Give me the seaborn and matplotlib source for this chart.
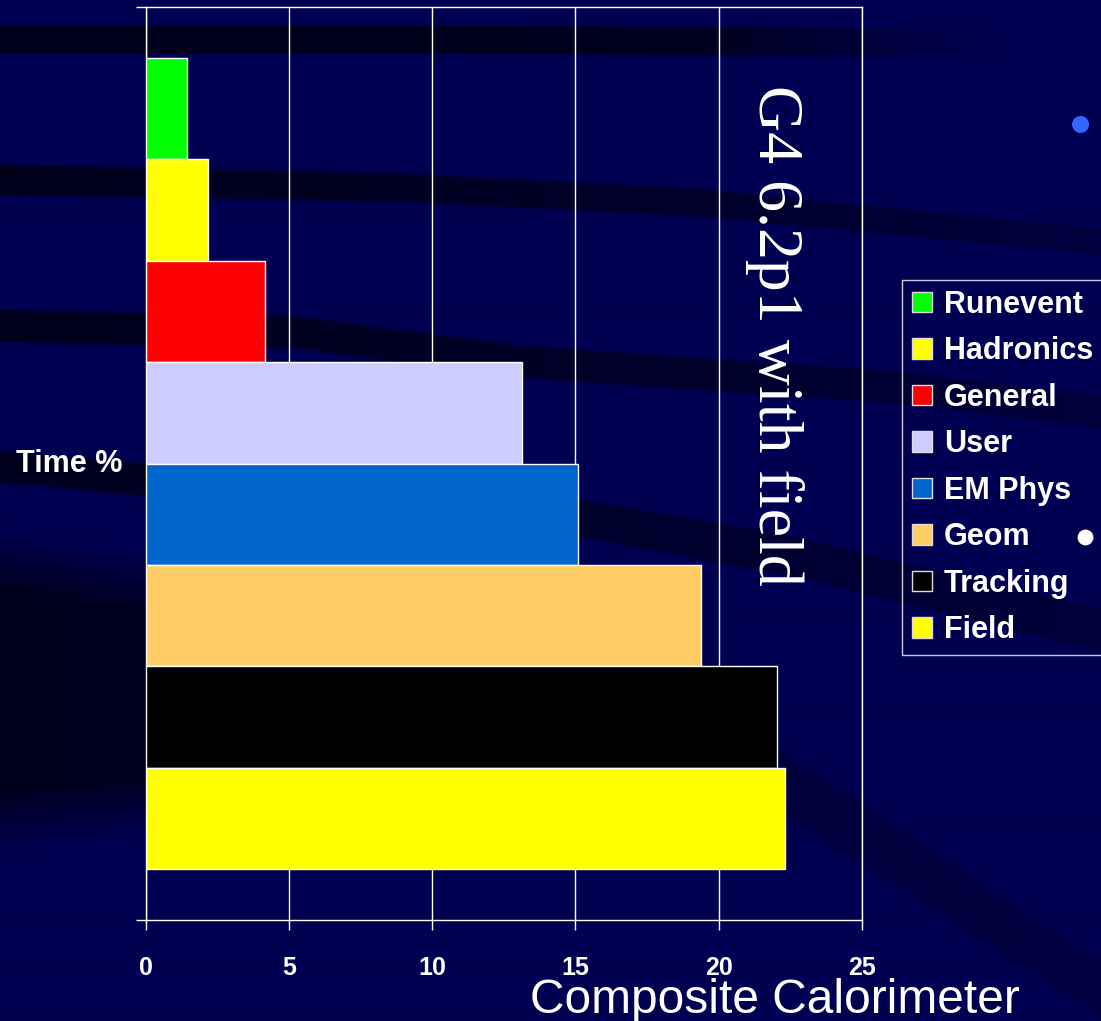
import numpy as np
import pandas as pd
import matplotlib
matplotlib.use("Agg")
import matplotlib.pyplot as plt
from matplotlib.patches import Patch
from matplotlib import font_manager
import seaborn as sns

# ---- data ----
series = ["Runevent", "Hadronics", "General", "User", "EM Phys", "Geom", "Tracking", "Field"]
time_pct = [1.43, 2.17, 4.16, 13.14, 15.08, 19.38, 22.03, 22.33]
colors = ["#00FF00", "#FFFF00", "#FF0000", "#CCCCFF", "#0066CC", "#FFCC66", "#000000", "#FFFF00"]
xticks = [0, 5, 10, 15, 20, 25]
category_label = "Time %"
title = "G4 6.2p1 with field"
subtitle = "Composite Calorimeter"

plt.rcParams['font.family'] = ['Liberation Sans', 'DejaVu Sans']
installed = {f.name for f in font_manager.fontManager.ttflist}
narrow_ok = "Liberation Sans Narrow" in installed

W, H = 1101, 1021
fig = plt.figure(figsize=(W / 100, H / 100), dpi=100)
fig.patch.set_facecolor("#000052")

# ---- background (slide decoration) ----
bg = fig.add_axes([0, 0, 1, 1], zorder=-5)
bg.set_xlim(0, W)
bg.set_ylim(H, 0)
bg.axis("off")
Y, X = np.mgrid[0:H, 0:W].astype(float)
xs = np.arange(W, dtype=float)
d = np.zeros((H, W))

def prof(pts):
    px, pv = zip(*pts)
    return np.interp(xs, px, pv)

def band(pts, half, soft, strength):
    c = prof(pts)
    h = prof(half)
    sf = prof(soft)
    st = prof(strength)
    dist = np.abs(Y - c[None, :]) - h[None, :]
    return np.clip(1 - dist / sf[None, :], 0, 1) * st[None, :]

d = np.maximum(d, band([(0, 40), (400, 40), (800, 42), (1101, 46)], [(0, 13), (1101, 13)], [(0, 2), (1101, 2)],
                       [(0, 0.85), (700, 0.8), (1000, 0.0), (1101, 0.0)]))
d = np.maximum(d, band([(0, 180), (400, 188), (700, 203), (1101, 242)], [(0, 14), (1101, 12)], [(0, 2), (1101, 2)],
                       [(0, 0.85), (700, 0.6), (1101, 0.3)]))
d = np.maximum(d, band([(0, 326), (300, 333), (520, 362), (890, 387), (1101, 412)], [(0, 15), (1101, 15)],
                       [(0, 2), (1101, 2)], [(0, 0.85), (700, 0.6), (1101, 0.35)]))
d = np.maximum(d, band([(0, 467), (580, 518), (810, 560), (890, 580), (1101, 630)], [(0, 14), (1101, 20)],
                       [(0, 3), (1101, 3)], [(0, 0.8), (700, 0.55), (1101, 0.35)]))
d = np.maximum(d, band([(0, 690), (400, 700), (780, 780), (1101, 990)], [(0, 95), (500, 50), (780, 22), (1101, 20)],
                       [(0, 70), (500, 50), (780, 20), (1101, 15)],
                       [(0, 0.85), (500, 0.55), (780, 0.35), (1101, 0.3)]))
base = np.array([0, 0, 82]) / 255.0
dark = np.array([0, 0, 18]) / 255.0
img = base[None, None, :] * (1 - d[..., None]) + dark[None, None, :] * d[..., None]
bg.imshow(img, extent=[0, W, H, 0], aspect="auto", interpolation="bilinear")
bg.scatter([1080], [124], s=150, color="#3366FF", linewidths=0)
bg.scatter([1085], [537], s=130, color="white", linewidths=0)

# ---- chart ----
x0, x1 = 145.7, 862.0
y0, y1 = 7.0, 920.0
ax = fig.add_axes([x0 / W, 1 - y1 / H, (x1 - x0) / W, (y1 - y0) / H])
ax.set_facecolor("none")
df = pd.DataFrame({"series": series, "value": time_pct})
sns.barplot(data=df, x="value", y="series", hue="series", palette=dict(zip(series, colors)),
            orient="h", width=1.0, saturation=1, edgecolor="white", linewidth=1,
            legend=False, ax=ax, zorder=3)
ax.set_xlim(0, 25)
ax.set_ylim(8.0, -1.0)
ax.set_xticks(xticks)
if narrow_ok:
    tick_font = dict(fontsize=21, fontweight="bold", color="white", family=["Liberation Sans Narrow", "Liberation Sans"])
else:
    tick_font = dict(fontsize=18, fontweight="bold", color="white")
ax.set_xticklabels([str(t) for t in xticks], **tick_font)
ax.set_yticks([-1, 8])
ax.set_yticklabels(["", ""])
ax.tick_params(axis="both", direction="out", length=7.2, width=1, color="white")
ax.tick_params(axis="x", pad=19)
ax.set_xlabel("")
ax.set_ylabel("")
ax.grid(axis="x", color="white", linewidth=1, zorder=1)
ax.grid(axis="y", visible=False)
ax.set_axisbelow(True)
for s in ax.spines.values():
    s.set_color("white")
    s.set_linewidth(1)

fig.text(122 / W, 1 - 464 / H, category_label, ha="right", va="center",
         fontsize=22, fontweight="bold", color="white")

fig.text(774 / W, 1 - 335 / H, title, rotation=270, ha="center", va="center",
         fontsize=46, color="white", family=["Liberation Serif", "DejaVu Serif"])

fig.text(530 / W, 1 - 1013 / H, subtitle, ha="left", va="baseline",
         fontsize=34.5, color="white")

handles = [Patch(facecolor=c, edgecolor="#DDDDDD", linewidth=1, label=s) for s, c in zip(series, colors)]
leg = fig.legend(handles=handles, loc="upper left", bbox_to_anchor=(902 / W, 1 - 280 / H),
                 bbox_transform=fig.transFigure, frameon=True, fancybox=False,
                 prop={"size": 22, "weight": "bold"}, labelcolor="white",
                 handlelength=0.65, handleheight=0.65, handletextpad=0.4,
                 labelspacing=0.54, borderpad=0.32, borderaxespad=0)
leg.get_frame().set_facecolor("none")
leg.get_frame().set_edgecolor("white")
leg.get_frame().set_linewidth(1)

fig.savefig("out.png", dpi=100, facecolor=fig.get_facecolor())
